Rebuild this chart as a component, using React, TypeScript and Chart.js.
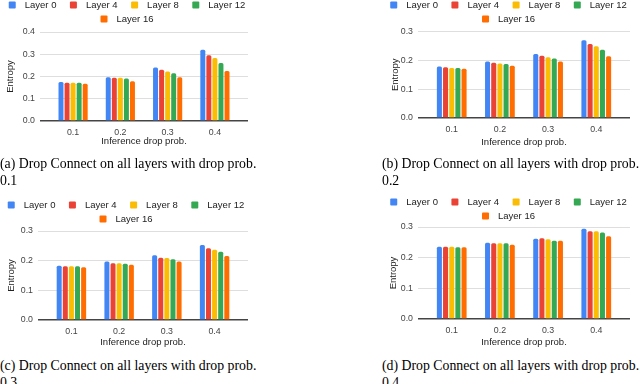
import React, { useEffect, useRef } from "react";
import { Chart, registerables } from "chart.js";

Chart.register(...registerables);

// ---------- data ----------
const categories = ["0.1", "0.2", "0.3", "0.4"];
const layerNames = ["Layer 0", "Layer 4", "Layer 8", "Layer 12", "Layer 16"];
const layerColors = ["#4285F4", "#EA4335", "#FBBC04", "#34A853", "#FF6D01"];
const xTitle = "Inference drop prob.";
const yTitle = "Entropy";

// (a) training drop prob. 0.1
const a_L0 = [0.175, 0.197, 0.24, 0.32];
const a_L4 = [0.172, 0.194, 0.23, 0.295];
const a_L8 = [0.172, 0.194, 0.222, 0.283];
const a_L12 = [0.172, 0.191, 0.215, 0.261];
const a_L16 = [0.167, 0.179, 0.197, 0.225];

// (b) training drop prob. 0.2
const b_L0 = [0.179, 0.196, 0.222, 0.27];
const b_L4 = [0.176, 0.192, 0.216, 0.257];
const b_L8 = [0.173, 0.189, 0.211, 0.249];
const b_L12 = [0.173, 0.187, 0.206, 0.237];
const b_L16 = [0.171, 0.181, 0.196, 0.214];

// (c) training drop prob. 0.3
const c_L0 = [0.183, 0.197, 0.218, 0.253];
const c_L4 = [0.181, 0.191, 0.21, 0.242];
const c_L8 = [0.181, 0.191, 0.209, 0.237];
const c_L12 = [0.181, 0.19, 0.205, 0.23];
const c_L16 = [0.178, 0.186, 0.197, 0.216];

// (d) training drop prob. 0.4
const d_L0 = [0.236, 0.249, 0.262, 0.294];
const d_L4 = [0.236, 0.247, 0.263, 0.286];
const d_L8 = [0.236, 0.247, 0.26, 0.286];
const d_L12 = [0.234, 0.247, 0.255, 0.282];
const d_L16 = [0.234, 0.242, 0.255, 0.27];

const yMaxA = 0.4;
const yMaxB = 0.3;
const yMaxC = 0.3;
const yMaxD = 0.3;

const captionA = ["(a) Drop Connect on all layers with drop prob.", "0.1"];
const captionB = ["(b) Drop Connect on all layers with drop prob.", "0.2"];
const captionC = ["(c) Drop Connect on all layers with drop prob.", "0.3"];
const captionD = ["(d) Drop Connect on all layers with drop prob.", "0.4"];

// ---------- styling / layout ----------
const SANS = "'Liberation Sans', Arial, Helvetica, sans-serif";
const SERIF = "'Liberation Serif', 'Times New Roman', serif";
const X_HEIGHT = 30;
const CAT_PAD = 0.2;

type Spec = {
  left: number; top: number; width: number; height: number;
  chartLeft: number; chartRight: number; plotTop: number; plotBottom: number;
  legendTop: number; xTitleY: number; yTitleX: number;
  yMax: number; series: number[][];
  caption: string[]; capLeft: number; capTop: number;
};

const panels: Spec[] = [
  { left: 0, top: 0, width: 254, height: 160, chartLeft: 40, chartRight: 248, plotTop: 32, plotBottom: 121,
    legendTop: 5, xTitleY: 141, yTitleX: 10, yMax: yMaxA, series: [a_L0, a_L4, a_L8, a_L12, a_L16],
    caption: captionA, capLeft: 0, capTop: 154.5 },
  { left: 386, top: 0, width: 245, height: 160, chartLeft: 32, chartRight: 244, plotTop: 31.5, plotBottom: 118,
    legendTop: 5, xTitleY: 142, yTitleX: 9, yMax: yMaxB, series: [b_L0, b_L4, b_L8, b_L12, b_L16],
    caption: captionB, capLeft: 382, capTop: 154.5 },
  { left: 0, top: 192, width: 252, height: 160, chartLeft: 38, chartRight: 248, plotTop: 39, plotBottom: 128,
    legendTop: 13, xTitleY: 150, yTitleX: 11, yMax: yMaxC, series: [c_L0, c_L4, c_L8, c_L12, c_L16],
    caption: captionC, capLeft: 0, capTop: 356.5 },
  { left: 386, top: 192, width: 245, height: 160, chartLeft: 32, chartRight: 244, plotTop: 35, plotBottom: 127,
    legendTop: 10, xTitleY: 150, yTitleX: 7.5, yMax: yMaxD, series: [d_L0, d_L4, d_L8, d_L12, d_L16],
    caption: captionD, capLeft: 382, capTop: 356.5 },
];

const sheetLegend = {
  id: "sheetLegend",
  afterDraw(chart: any, _args: any, opts: any) {
    const ctx = chart.ctx as CanvasRenderingContext2D;
    const box = opts.box, textGap = opts.textGap, gap = opts.gap;
    ctx.save();
    ctx.font = `${opts.fontSize}px ${SANS}`;
    const items = chart.data.datasets.map((ds: any) => ({
      label: ds.label as string,
      color: ds.backgroundColor as string,
      w: box + textGap + ctx.measureText(ds.label).width,
    }));
    const rows: { items: any[]; w: number }[] = [];
    let cur: any[] = [];
    let curW = 0;
    for (const it of items) {
      const add = cur.length ? gap + it.w : it.w;
      if (cur.length && curW + add > chart.width) {
        rows.push({ items: cur, w: curW });
        cur = [it];
        curW = it.w;
      } else {
        cur.push(it);
        curW += add;
      }
    }
    if (cur.length) rows.push({ items: cur, w: curW });
    rows.forEach((row, r) => {
      let x = (chart.width - row.w) / 2;
      const y = opts.top + r * opts.rowGap;
      for (const it of row.items) {
        ctx.fillStyle = it.color;
        ctx.beginPath();
        (ctx as any).roundRect ? (ctx as any).roundRect(x, y - box / 2, box, box, 1) : ctx.rect(x, y - box / 2, box, box);
        ctx.fill();
        ctx.fillStyle = opts.color;
        ctx.textBaseline = "middle";
        ctx.textAlign = "left";
        ctx.fillText(it.label, x + box + textGap, y);
        x += it.w + gap;
      }
    });
    ctx.restore();
  },
};

function Panel({ spec }: { spec: Spec }) {
  const ref = useRef<HTMLCanvasElement>(null);
  useEffect(() => {
    if (!ref.current) return;
    const s = spec;
    const chart = new Chart(ref.current, {
      type: "bar",
      data: {
        labels: categories,
        datasets: s.series.map((vals, i) => ({
          label: layerNames[i],
          data: vals,
          backgroundColor: layerColors[i],
          borderWidth: 0,
          borderRadius: { topLeft: 1.5, topRight: 1.5, bottomLeft: 0, bottomRight: 0 },
          borderSkipped: false,
          categoryPercentage: 0.64,
          barPercentage: 0.82,
        })),
      },
      plugins: [sheetLegend],
      options: {
        responsive: false,
        animation: false,
        devicePixelRatio: 1,
        layout: {
          padding: {
            top: s.plotTop,
            left: 0,
            right: s.width - s.chartRight,
            bottom: s.height - s.plotBottom - X_HEIGHT,
          },
        },
        plugins: {
          legend: { display: false },
          tooltip: { enabled: false },
          sheetLegend: { box: 7, textGap: 9, gap: 13.5, fontSize: 9.5, top: s.legendTop, rowGap: 14, color: "#222" },
        } as any,
        scales: {
          x: {
            offset: true,
            grid: { display: false, drawTicks: false },
            border: { display: false },
            ticks: { color: "#444", font: { family: SANS, size: 8.8, lineHeight: 1 }, padding: 7, maxRotation: 0 },
            title: {
              display: true, text: xTitle, color: "#222",
              font: { family: SANS, size: 9.5, lineHeight: 1 },
              padding: { top: 0, bottom: s.plotBottom + X_HEIGHT - 4.75 - s.xTitleY },
            },
            afterBuildTicks: (scale: any) => {
              scale._startValue = -0.5 - CAT_PAD;
              scale._valueRange = categories.length + 2 * CAT_PAD;
            },
            afterFit: (scale: any) => { scale.height = X_HEIGHT; },
          },
          y: {
            min: 0,
            max: s.yMax,
            border: { display: false },
            grid: {
              drawTicks: false,
              color: (c: any) => (c.tick && c.tick.value === 0 ? "#444" : "#dedede"),
              lineWidth: (c: any) => (c.tick && c.tick.value === 0 ? 1.6 : 1),
            },
            ticks: {
              stepSize: 0.1,
              color: "#444",
              padding: 5,
              font: { family: SANS, size: 8.8, lineHeight: 1 },
              callback: (v: any) => Number(v).toFixed(1),
            },
            title: {
              display: true, text: yTitle, color: "#222",
              font: { family: SANS, size: 9.5, lineHeight: 1 },
              padding: { top: s.yTitleX - 4.75, bottom: 0 },
            },
            afterFit: (scale: any) => { scale.width = s.chartLeft; },
          },
        },
      } as any,
    });
    return () => chart.destroy();
  }, [spec]);
  return (
    <canvas
      ref={ref}
      width={spec.width}
      height={spec.height}
      style={{ position: "absolute", left: spec.left, top: spec.top, width: spec.width, height: spec.height }}
    />
  );
}

export default function App() {
  return (
    <div style={{ position: "fixed", left: 0, top: 0, width: 640, height: 384, overflow: "hidden", background: "#fff" }}>
      {panels.map((p, i) => (
        <Panel key={"p" + i} spec={p} />
      ))}
      {panels.map((p, i) => (
        <div
          key={"c" + i}
          style={{
            position: "absolute", left: p.capLeft, top: p.capTop, fontFamily: SERIF, fontSize: 13.8,
            lineHeight: "17px", color: "#000", whiteSpace: "nowrap",
          }}
        >
          <div>{p.caption[0]}</div>
          <div>{p.caption[1]}</div>
        </div>
      ))}
    </div>
  );
}
